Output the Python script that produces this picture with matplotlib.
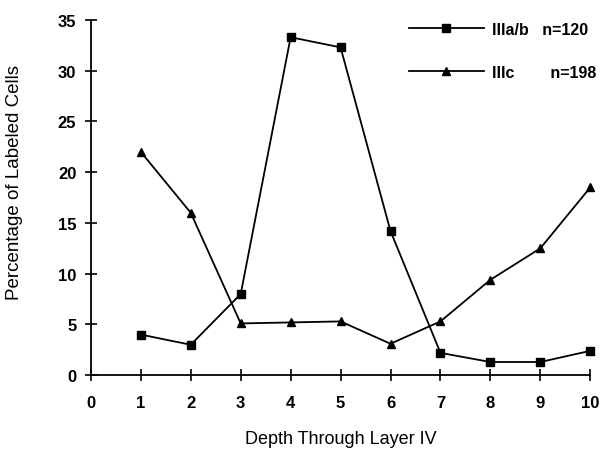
import matplotlib.pyplot as plt

plt.rcParams['font.family'] = ['Liberation Sans', 'DejaVu Sans']

# data
depth = [1, 2, 3, 4, 5, 6, 7, 8, 9, 10]
iiiab = [4.0, 3.0, 8.0, 33.3, 32.3, 14.2, 2.2, 1.3, 1.3, 2.4]
iiic = [22.0, 16.0, 5.1, 5.2, 5.3, 3.1, 5.3, 9.4, 12.5, 18.5]
xticks = list(range(0, 11))
yticks = [0, 5, 10, 15, 20, 25, 30, 35]

fig = plt.figure(figsize=(6.06, 4.56), dpi=100)
ax = fig.add_axes([0.150, 0.175, 0.824, 0.779])

ax.plot(depth, iiiab, color='black', lw=1.3, marker='s', ms=6, label='IIIa/b   n=120')
ax.plot(depth, iiic, color='black', lw=1.3, marker='^', ms=6, label='IIIc        n=198')

ax.set_xlim(0, 10)
ax.set_ylim(0, 35)
ax.set_xticks(xticks)
ax.set_yticks(yticks)

for s in ['top', 'right']:
    ax.spines[s].set_visible(False)
for s in ['left', 'bottom']:
    ax.spines[s].set_linewidth(1.3)

ax.tick_params(direction='inout', length=9, width=1.2, labelsize=12)
ax.tick_params(axis='x', pad=10)
ax.tick_params(axis='y', pad=6)
for lab in ax.get_xticklabels() + ax.get_yticklabels():
    lab.set_fontweight('bold')

ax.set_xlabel('Depth Through Layer IV', fontsize=13, labelpad=14)
ax.set_ylabel('Percentage of Labeled Cells', fontsize=13.5)
ax.yaxis.set_label_coords(-0.135, 0.545)

leg = ax.legend(loc='upper right', bbox_to_anchor=(1.04, 1.035), frameon=False,
                handlelength=4.7, numpoints=1, labelspacing=1.75, fontsize=11.5,
                handletextpad=0.5)
for t in leg.get_texts():
    t.set_fontweight('bold')

for line in ax.lines:
    line.set_clip_on(False)

fig.savefig('out.png', dpi=100)
